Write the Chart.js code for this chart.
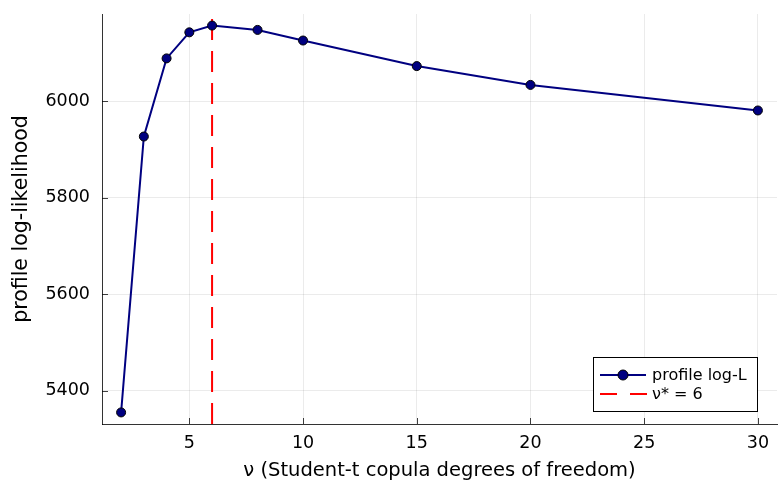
<!DOCTYPE html>
<html>
<head>
<title>profile log-likelihood</title>
<script src="https://cdn.jsdelivr.net/npm/chart.js@4.4.1/dist/chart.umd.min.js"></script>
<style>
html, body { margin: 0; padding: 0; background: #ffffff; }
#wrap { width: 778px; height: 480px; }
</style>
</head>
<body>
<div id="wrap"><canvas id="myChart"></canvas></div>
<script>
// profile log-likelihood of the Student-t copula over nu
var nuValues = [2, 3, 4, 5, 6, 8, 10, 15, 20, 30];
var logLik = [5355, 5927, 6089, 6143, 6157, 6148, 6126, 6073, 6034, 5981];
var nuStar = 6;
var xTicks = [5, 10, 15, 20, 25, 30];
var yTicks = [5400, 5600, 5800, 6000];
var xMin = 1.16, xMax = 30.84;
var yMin = 5331, yMax = 6181;

var FONT = 'DejaVu Sans';
var navy = '#000080';

var points = [];
for (var i = 0; i < nuValues.length; i++) points.push({ x: nuValues[i], y: logLik[i] });

// little inward tick marks + legend box inside the plot
var extras = {
  id: 'extras',
  afterDatasetsDraw: function (chart) {
    var c = chart.ctx, a = chart.chartArea;
    var xs = chart.scales.x, ys = chart.scales.y;
    c.save();
    c.strokeStyle = 'rgba(0,0,0,0.75)';
    c.lineWidth = 1;
    c.beginPath();
    xTicks.forEach(function (t) {
      var px = Math.round(xs.getPixelForValue(t)) + 0.5;
      c.moveTo(px, a.bottom); c.lineTo(px, a.bottom - 6);
    });
    yTicks.forEach(function (t) {
      var py = Math.round(ys.getPixelForValue(t)) + 0.5;
      c.moveTo(a.left, py); c.lineTo(a.left + 6, py);
    });
    c.stroke();

    // legend
    var bx = 593.5, by = 357.5, bw = 164, bh = 54;
    c.fillStyle = '#ffffff';
    c.fillRect(bx, by, bw, bh);
    c.strokeStyle = '#000000';
    c.lineWidth = 1;
    c.strokeRect(bx, by, bw, bh);
    var ds = chart.data.datasets;
    var y1 = 375, y2 = 394;
    c.strokeStyle = ds[0].borderColor;
    c.lineWidth = ds[0].borderWidth;
    c.beginPath(); c.moveTo(600, y1); c.lineTo(646, y1); c.stroke();
    c.beginPath(); c.arc(623, y1, 5, 0, Math.PI * 2);
    c.fillStyle = ds[0].pointBackgroundColor; c.fill();
    c.lineWidth = 1; c.strokeStyle = '#000000'; c.stroke();
    c.strokeStyle = ds[1].borderColor;
    c.lineWidth = ds[1].borderWidth;
    c.setLineDash([17, 13]);
    c.beginPath(); c.moveTo(600, y2); c.lineTo(647, y2); c.stroke();
    c.setLineDash([]);
    c.fillStyle = '#000000';
    c.font = '16px "' + FONT + '"';
    c.textBaseline = 'middle';
    c.textAlign = 'left';
    c.fillText(ds[0].label, 652, y1 + 1);
    c.fillText(ds[1].label, 652, y2 + 1);
    c.restore();
  }
};

function plain(v) { return String(v); }

var ctx = document.getElementById('myChart').getContext('2d');
var chart = new Chart(ctx, {
  type: 'scatter',
  data: {
    datasets: [{
      label: 'profile log-L',
      data: points,
      showLine: true,
      borderColor: navy,
      borderWidth: 2,
      pointBackgroundColor: navy,
      pointBorderColor: '#000000',
      pointBorderWidth: 1,
      pointRadius: 4.5,
      tension: 0
    }, {
      label: '\u03bd* = ' + nuStar,
      data: [{ x: nuStar, y: yMin }, { x: nuStar, y: yMax }],
      showLine: true,
      borderColor: '#ff0000',
      borderWidth: 2,
      borderDash: [21, 11],
      pointRadius: 0
    }]
  },
  options: {
    responsive: true,
    maintainAspectRatio: false,
    animation: false,
    layout: { autoPadding: false, padding: { top: 14, right: 1, left: 0, bottom: 0 } },
    plugins: { legend: { display: false }, tooltip: { enabled: false } },
    scales: {
      x: {
        type: 'linear', min: xMin, max: xMax,
        afterBuildTicks: function (s) { s.ticks = xTicks.map(function (v) { return { value: v }; }); },
        afterFit: function (s) { s.height = 56; s.paddingLeft = 0; s.paddingRight = 0; },
        grid: { color: 'rgba(0,0,0,0.08)', drawTicks: false },
        border: { display: true, color: 'rgba(0,0,0,0.8)', width: 1 },
        ticks: { color: '#000000', padding: 9, maxRotation: 0, callback: plain, font: { family: FONT, size: 17.5 } },
        title: { display: true, text: '\u03bd (Student-t copula degrees of freedom)', color: '#000000',
                 padding: { top: 0, bottom: -3 }, font: { family: FONT, size: 19.5 } }
      },
      y: {
        type: 'linear', min: yMin, max: yMax,
        afterBuildTicks: function (s) { s.ticks = yTicks.map(function (v) { return { value: v }; }); },
        afterFit: function (s) { s.width = 102; s.paddingTop = 0; s.paddingBottom = 0; },
        grid: { color: 'rgba(0,0,0,0.08)', drawTicks: false },
        border: { display: true, color: 'rgba(0,0,0,0.8)', width: 1 },
        ticks: { color: '#000000', padding: 12, callback: plain, font: { family: FONT, size: 17.5 } },
        title: { display: true, text: 'profile log-likelihood', color: '#000000',
                 padding: { top: 9, bottom: 0 }, font: { family: FONT, size: 20.5 } }
      }
    }
  },
  plugins: [extras]
});
</script>
</body>
</html>
